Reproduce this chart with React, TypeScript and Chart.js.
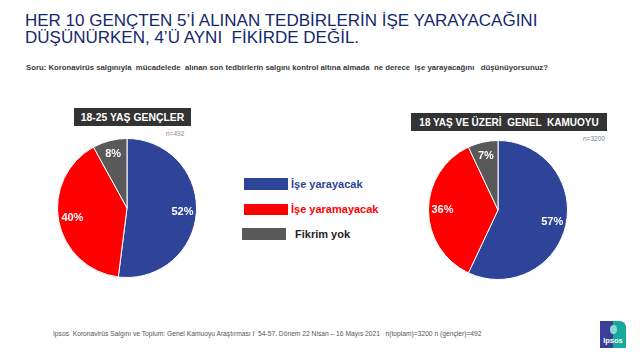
import React, { useEffect, useRef } from "react";
import { Chart, registerables } from "chart.js";

Chart.register(...registerables);

const categories = ["İşe yarayacak", "İşe yaramayacak", "Fikrim yok"];
const youthValues = [52, 40, 8];
const publicValues = [57, 36, 7];
const sliceColors = ["#2E4499", "#FF0000", "#595959"];
const legendTextColors = ["#2E4499", "#FF0000", "#262626"];

const FONT = "'Liberation Sans', Arial, Helvetica, sans-serif";

const labelPlugin = {
  id: "sliceLabels",
  afterDatasetsDraw(chart: any) {
    const ctx = chart.ctx;
    const meta = chart.getDatasetMeta(0);
    const data = chart.data.datasets[0].data;
    ctx.save();
    ctx.fillStyle = "#ffffff";
    ctx.font = `bold 11px ${FONT}`;
    ctx.textAlign = "center";
    ctx.textBaseline = "middle";
    meta.data.forEach((arc: any, i: number) => {
      const p = arc.getProps(["x", "y", "startAngle", "endAngle", "outerRadius"], true);
      const mid = (p.startAngle + p.endAngle) / 2;
      const r = p.outerRadius * 0.8;
      ctx.fillText(`${data[i]}%`, p.x + Math.cos(mid) * r, p.y + Math.sin(mid) * r);
    });
    ctx.restore();
  },
};

function Pie({ values, left, top, size }: { values: number[]; left: number; top: number; size: number }) {
  const ref = useRef<HTMLCanvasElement | null>(null);
  useEffect(() => {
    if (!ref.current) return;
    const chart = new Chart(ref.current, {
      type: "pie",
      data: {
        labels: categories,
        datasets: [
          {
            data: values,
            backgroundColor: sliceColors,
            borderColor: "#ffffff",
            borderWidth: 1,
          },
        ],
      },
      options: {
        responsive: false,
        animation: false,
        layout: { padding: 0 },
        plugins: { legend: { display: false }, tooltip: { enabled: false } },
      },
      plugins: [labelPlugin],
    });
    return () => chart.destroy();
  }, [values]);
  return (
    <canvas
      ref={ref}
      width={size}
      height={size}
      style={{ position: "absolute", left, top, width: size, height: size }}
    />
  );
}

const abs = (s: React.CSSProperties): React.CSSProperties => ({ position: "absolute", whiteSpace: "pre", ...s });

export default function App() {
  return (
    <div
      style={{
        position: "fixed",
        left: 0,
        top: 0,
        width: 640,
        height: 360,
        background: "#ffffff",
        overflow: "hidden",
        fontFamily: FONT,
      }}
    >
      <div style={abs({ left: 25, top: 13, fontSize: 17, lineHeight: "16.5px", color: "#14286E" })}>
        {"HER 10 GENÇTEN 5’İ ALINAN TEDBİRLERİN İŞE YARAYACAĞINI\nDÜŞÜNÜRKEN, 4’Ü AYNI  FİKİRDE DEĞİL."}
      </div>
      <div style={abs({ left: 26, top: 64, fontSize: 7.75, lineHeight: "8px", fontWeight: "bold", color: "#3A3A3A" })}>
        {"Soru: Koronavirüs salgınıyla  mücadelede  alınan son tedbirlerin salgını kontrol altına almada  ne derece  işe yarayacağını   düşünüyorsunuz?"}
      </div>

      <div
        style={abs({
          left: 74,
          top: 108,
          width: 117,
          height: 18,
          background: "#333333",
          color: "#ffffff",
          fontWeight: "bold",
          fontSize: 10.4,
          display: "flex",
          alignItems: "center",
          justifyContent: "center",
        })}
      >
        18-25 YAŞ GENÇLER
      </div>
      <div style={abs({ left: 166, top: 130, fontSize: 6.5, lineHeight: "7px", color: "#A08080" })}>n=492</div>

      <div
        style={abs({
          left: 411,
          top: 113,
          width: 196,
          height: 18,
          background: "#333333",
          color: "#ffffff",
          fontWeight: "bold",
          fontSize: 10,
          display: "flex",
          alignItems: "center",
          justifyContent: "center",
        })}
      >
        {"18 YAŞ VE ÜZERİ  GENEL  KAMUOYU"}
      </div>
      <div style={abs({ left: 583, top: 135, fontSize: 6.5, lineHeight: "7px", color: "#7080A0" })}>n=3200</div>

      <Pie values={youthValues} left={57} top={138} size={140} />
      <Pie values={publicValues} left={428} top={140} size={140} />

      {categories.map((c, i) => (
        <div
          key={c}
          style={abs({
            left: i === 2 ? 242 : 244,
            top: [178, 203, 228][i],
            height: 12,
            display: "flex",
            alignItems: "center",
          })}
        >
          <div style={{ width: 44, height: i === 1 ? 11 : 12, background: sliceColors[i] }} />
          <div
            style={{
              marginLeft: i === 2 ? 9 : 3,
              fontSize: 11,
              fontWeight: "bold",
              color: legendTextColors[i],
            }}
          >
            {c}
          </div>
        </div>
      ))}

      <div style={abs({ left: 53, top: 330, fontSize: 6.7, lineHeight: "7px", color: "#555555" })}>
        {"Ipsos  Koronavirüs Salgını ve Toplum: Genel Kamuoyu Araştırması I  54-57. Dönem 22 Nisan – 16 Mayıs 2021   n(toplam)=3200 n (gençler)=492"}
      </div>

      <div
        style={abs({
          left: 600,
          top: 321,
          width: 26,
          height: 27,
          background: "linear-gradient(90deg, #3B3F98 0%, #3B3F98 48%, #17A89E 52%, #17A89E 100%)",
          borderRadius: "0 6px 0 0",
          overflow: "hidden",
        })}
      >
        <div
          style={abs({
            left: 10,
            top: 4,
            width: 7,
            height: 9,
            background: "#8FD8D2",
            borderRadius: "50%",
          })}
        />
        <div
          style={abs({
            left: 0,
            top: 16,
            width: 26,
            textAlign: "center",
            fontSize: 7.5,
            fontWeight: "bold",
            color: "#ffffff",
            lineHeight: "8px",
          })}
        >
          Ipsos
        </div>
      </div>
    </div>
  );
}
